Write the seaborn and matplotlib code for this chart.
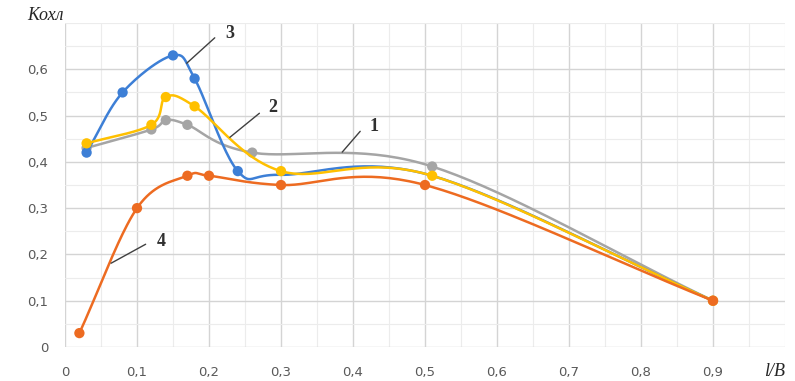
import numpy as np
import pandas as pd
import matplotlib
matplotlib.use("Agg")
import matplotlib.pyplot as plt
from matplotlib.ticker import MultipleLocator, FuncFormatter
import seaborn as sns

# ---- data ----
x1 = [0.03, 0.12, 0.14, 0.17, 0.26, 0.51, 0.90]
y1 = [0.43, 0.47, 0.49, 0.48, 0.42, 0.39, 0.10]

x2 = [0.03, 0.12, 0.14, 0.18, 0.30, 0.51, 0.90]
y2 = [0.44, 0.48, 0.54, 0.52, 0.38, 0.37, 0.10]

x3 = [0.03, 0.08, 0.15, 0.18, 0.24, 0.30, 0.51, 0.90]
y3 = [0.42, 0.55, 0.63, 0.58, 0.38, 0.372, 0.37, 0.10]
x3_markers = [0.03, 0.08, 0.15, 0.18, 0.24]

x4 = [0.02, 0.10, 0.17, 0.20, 0.30, 0.50, 0.90]
y4 = [0.03, 0.30, 0.37, 0.37, 0.35, 0.35, 0.10]

curve_labels = ["1", "2", "3", "4"]
x_ticks = [0.0, 0.1, 0.2, 0.3, 0.4, 0.5, 0.6, 0.7, 0.8, 0.9]
y_ticks = [0.0, 0.1, 0.2, 0.3, 0.4, 0.5, 0.6]

colors = {"1": "#A5A5A5", "2": "#FFC000", "3": "#3D7FD6", "4": "#ED6B21"}


def smooth(xs, ys, n=40):
    """Catmull-Rom parametric smoothing (like Excel's smoothed line)."""
    p = np.column_stack([xs, ys]).astype(float)
    p = np.vstack([p[0] - (p[1] - p[0]), p, p[-1] + (p[-1] - p[-2])])
    out = []
    for i in range(1, len(p) - 2):
        p0, p1, p2, p3 = p[i - 1], p[i], p[i + 1], p[i + 2]
        t = np.linspace(0, 1, n)[:, None]
        seg = 0.5 * ((2 * p1) + (-p0 + p2) * t + (2 * p0 - 5 * p1 + 4 * p2 - p3) * t ** 2
                     + (-p0 + 3 * p1 - 3 * p2 + p3) * t ** 3)
        out.append(seg if i == 1 else seg[1:])
    s = np.vstack(out)
    return s[:, 0], s[:, 1]


sns.set_style("white")
plt.rcParams["font.family"] = ["DejaVu Sans"]

fig = plt.figure(figsize=(7.95, 3.81), dpi=100)
ax = fig.add_axes([65 / 795, 34 / 381, 720 / 795, 324 / 381])

series = [("1", x1, y1, x1, y1), ("3", x3, y3, x3_markers, y3[:5]),
          ("2", x2, y2, x2, y2), ("4", x4, y4, x4, y4)]
for i, (name, xs, ys, mx, my) in enumerate(series):
    sx, sy = smooth(xs, ys)
    df = pd.DataFrame({"x": sx, "y": sy})
    sns.lineplot(data=df, x="x", y="y", sort=False, color=colors[name], lw=1.8,
                 ax=ax, zorder=3 + i, estimator=None)
    dm = pd.DataFrame({"x": mx, "y": my})
    sns.scatterplot(data=dm, x="x", y="y", color=colors[name], s=55,
                    edgecolor="none", ax=ax, zorder=3.5 + i)

ax.set_xlim(0, 1.0)
ax.set_ylim(0, 0.7)
ax.xaxis.set_major_locator(MultipleLocator(0.1))
ax.yaxis.set_major_locator(MultipleLocator(0.1))
ax.xaxis.set_minor_locator(MultipleLocator(0.05))
ax.yaxis.set_minor_locator(MultipleLocator(0.05))
ax.grid(which="major", color="#D4D4D4", lw=1.0, zorder=0)
ax.grid(which="minor", color="#ECECEC", lw=0.8, zorder=0)
for s in ax.spines.values():
    s.set_visible(False)
ax.tick_params(which="both", length=0, labelsize=9.5, labelcolor="#595959")
ax.tick_params(axis="x", pad=14)
ax.tick_params(axis="y", pad=12)

fmt = FuncFormatter(lambda v, p: ("0" if abs(v) < 1e-9 else f"{v:.1f}".replace(".", ",")))
ax.set_xticks(x_ticks)
ax.set_yticks(y_ticks)
ax.xaxis.set_major_formatter(fmt)
ax.yaxis.set_major_formatter(fmt)
ax.set_xlabel("")
ax.set_ylabel("")

serif = ["Liberation Serif", "DejaVu Serif"]
fig.text(45 / 795, 1 - 16 / 381, "Kохл", ha="center", va="center",
         fontsize=13, style="italic", family=serif)
fig.text(775 / 795, 1 - 371 / 381, "l/B", ha="center", va="center", fontsize=13,
         style="italic", family=serif)

# curve labels with leader lines
ann = [("3", (0.169, 0.613), (0.208, 0.668), (0.222, 0.678)),
       ("2", (0.229, 0.453), (0.27, 0.505), (0.282, 0.518)),
       ("1", (0.385, 0.421), (0.41, 0.466), (0.423, 0.477)),
       ("4", (0.064, 0.181), (0.112, 0.222), (0.128, 0.228))]
for lab, p0, p1, pt in ann:
    ax.plot([p0[0], p1[0]], [p0[1], p1[1]], color="#404040", lw=1.0, zorder=10)
    ax.text(pt[0], pt[1], lab, fontsize=13, family=serif, fontweight="bold",
            color="#303030", ha="left", va="center", zorder=10)

fig.savefig("out.png", dpi=100)
